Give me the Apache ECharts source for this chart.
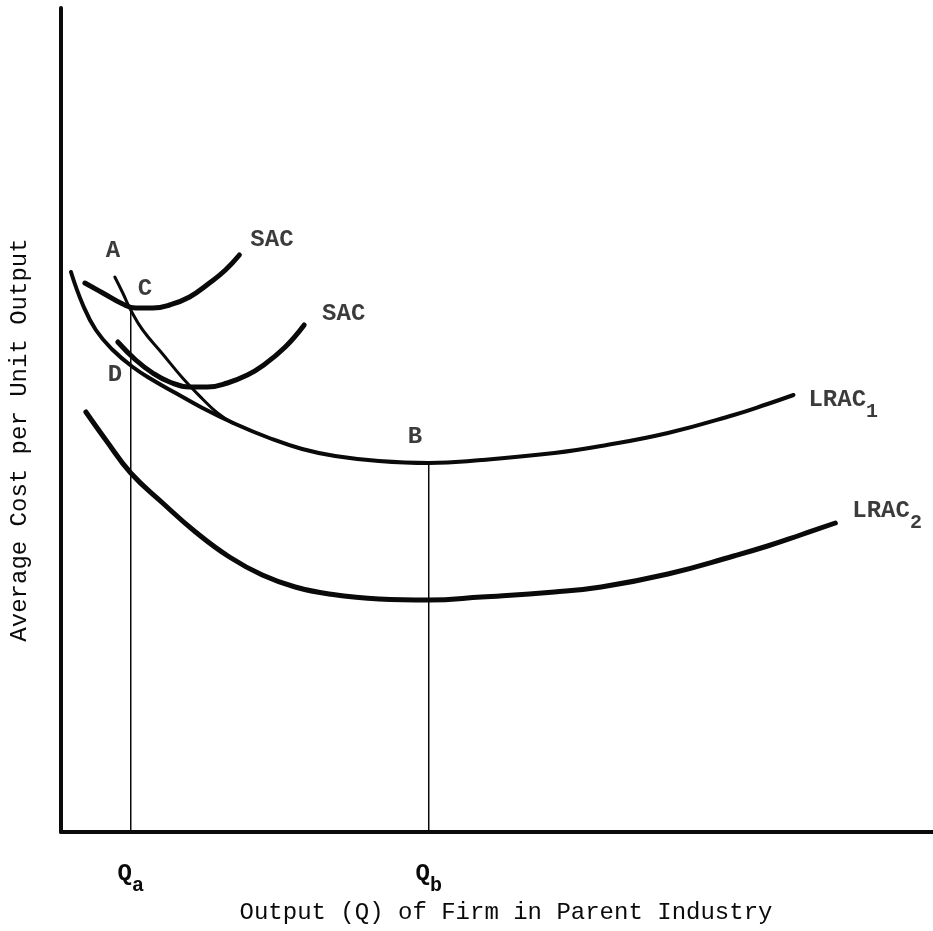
<!DOCTYPE html>
<html>
<head>
<meta charset="utf-8">
<script src="https://cdn.jsdelivr.net/npm/echarts@6/dist/echarts.min.js"></script>
<style>
html,body{margin:0;padding:0;background:#fff;}
#chart{width:933px;height:931px;}
</style>
</head>
<body>
<div id="chart"></div>
<script>
// Values (arbitrary output / cost units)
var sacUpper = [[24,549],[42,539],[62,528],[75,524],[92,524],[109,527],[129,535],[149,549],[165,562],[179,577]];
var sacLower = [[57,490],[75,472],[92,459],[109,450],[129,445],[147,445],[167,449],[187,457],[202,466],[225,485],[244,507]];
var curveA = [[54,555],[62,539],[70,522],[82,502],[102,478],[122,454],[142,433],[157,419],[172,409]];
var lrac1 = [[10,560],[22,527],[35,502],[52,482],[72,465],[92,452],[115,439],[142,424],[175,408],[209,394],[242,383],[275,376],[319,371],[369,369],[422,372],[495,379],[542,386],[609,399],[675,417],[709,428],[735,437]];
var lrac2 = [[25,420],[45,392],[70,359],[102,329],[135,300],[169,275],[202,257],[235,245],[269,238],[319,233],[369,232],[422,235],[495,240],[542,245],[609,258],[675,276],[709,286],[742,297],[777,309]];
var qaLine = [[70,0],[70,524]];
var qbLine = [[369,0],[369,369]];
var tickValues = [70,369];
var tickMain = ['Q','Q'];
var tickSub = ['a','b'];
var pointMain = ['A','C','D','B','SAC','SAC','LRAC','LRAC'];
var pointSub = ['','','','','','','1','2'];
var pointCoords = [[45,581],[77,543],[47,457],[348,395],[190,592],[262,518],[750,427],[794,316]];
var xTitle = 'Output (Q) of Firm in Parent Industry';
var yTitle = 'Average Cost per Unit Output';

var FONT = '"Liberation Mono", "DejaVu Sans Mono", monospace';
var INK = '#0a0a0a';
var rich = {
  m: {fontFamily: FONT, fontSize: 24, fontWeight: 'bold', color: INK, verticalAlign: 'top'},
  s: {fontFamily: FONT, fontSize: 20, fontWeight: 'bold', color: INK, lineHeight: 34, verticalAlign: 'bottom'}
};
function richText(main, sub) {
  return '{m|' + main + '}' + (sub ? '{s|' + sub + '}' : '');
}

function curve(name, data, width) {
  return {
    name: name, type: 'line', data: data, smooth: 0.45, symbol: 'none',
    lineStyle: {color: INK, width: width, cap: 'round', join: 'round'},
    z: 3, silent: true
  };
}

var labelData = pointCoords.map(function (c, i) { return {value: c, name: pointMain[i], sub: pointSub[i]}; });

var option = {
  backgroundColor: '#fff',
  animation: false,
  grid: {left: 58, right: 0, top: 8, bottom: 99, containLabel: false},
  xAxis: {
    type: 'value', min: 0, max: 875,
    name: xTitle, nameLocation: 'middle', nameGap: 66,
    nameTextStyle: {fontFamily: FONT, fontSize: 24, color: INK, padding: [0, 0, 0, 18]},
    axisLine: {show: true, onZero: false, lineStyle: {color: INK, width: 4}},
    axisTick: {show: false},
    splitLine: {show: false},
    axisLabel: {
      show: true, customValues: tickValues, margin: 30,
      formatter: function (v) { var i = tickValues.indexOf(v); return i >= 0 ? richText(tickMain[i], tickSub[i]) : ''; },
      rich: rich
    }
  },
  yAxis: {
    type: 'value', min: 0, max: 824,
    name: yTitle, nameLocation: 'middle', nameGap: 29, nameRotate: 90,
    nameTextStyle: {fontFamily: FONT, fontSize: 24, color: INK, padding: [0, 40, 0, 0]},
    axisLine: {show: true, onZero: false, lineStyle: {color: INK, width: 4}},
    axisTick: {show: false},
    splitLine: {show: false},
    axisLabel: {show: false}
  },
  series: [
    curve('SAC upper', sacUpper, 5),
    curve('SAC lower', sacLower, 5),
    curve('Envelope A', curveA, 3),
    curve('LRAC1', lrac1, 4),
    curve('LRAC2', lrac2, 5),
    {type: 'line', data: qaLine, symbol: 'none', lineStyle: {color: INK, width: 1.5}, z: 2, silent: true},
    {type: 'line', data: qbLine, symbol: 'none', lineStyle: {color: INK, width: 1.5}, z: 2, silent: true},
    {
      type: 'scatter', data: labelData, symbolSize: 0, silent: true, z: 5,
      label: {
        show: true, position: 'right', distance: 0,
        formatter: function (p) { return richText(p.data.name, p.data.sub); },
        rich: rich
      }
    }
  ]
};

var chart = echarts.init(document.getElementById('chart'), null, {renderer: 'canvas'});
chart.setOption(option);
</script>
</body>
</html>
